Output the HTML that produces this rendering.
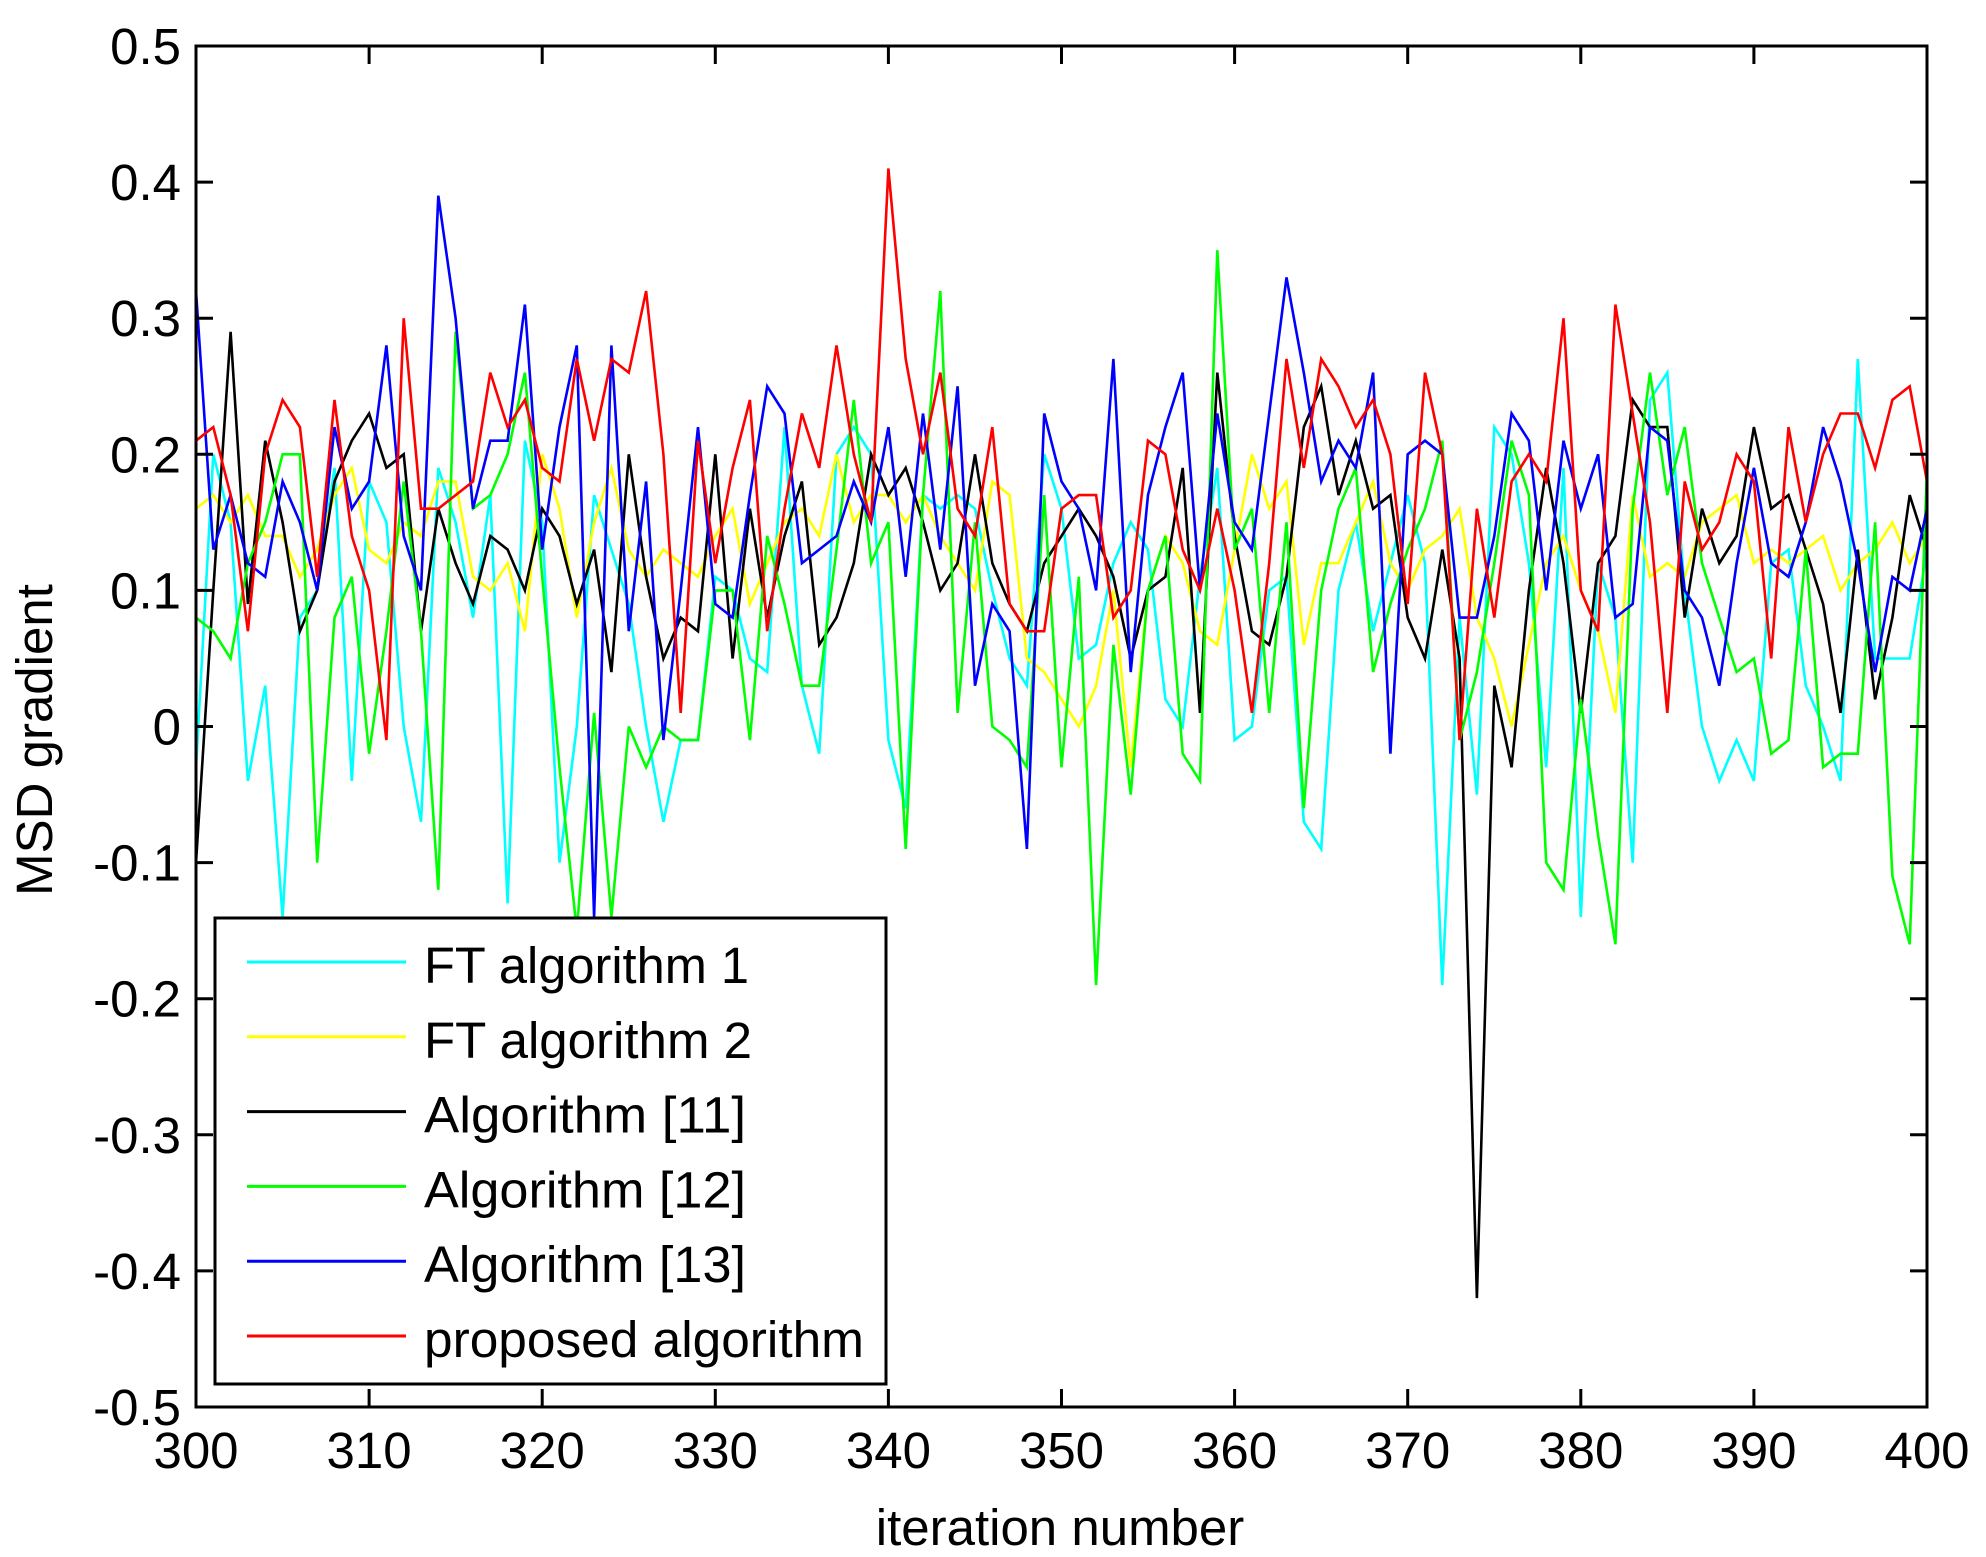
<!DOCTYPE html>
<html><head><meta charset="utf-8"><style>
html,body{margin:0;padding:0;background:#fff;}
svg{display:block;font-family:"Liberation Sans",Arial,sans-serif;}
</style></head><body>
<svg id="s" width="1986" height="1557" viewBox="0 0 1986 1557" xmlns="http://www.w3.org/2000/svg">
<rect width="1986" height="1557" fill="#fff"/>
<g id="series" fill="none" stroke-width="2.6" stroke-linejoin="miter"></g>
<g id="axes"></g>
</svg>
<script>
var L=196,R=1927,T=46,B=1407;
function X(i){return L+i*(R-L)/100;}
function Y(v){return T+(0.5-v)*(B-T);}
var data={
cyan:[-0.03,0.2,0.15,-0.04,0.03,-0.14,0.08,0.1,0.19,-0.04,0.18,0.15,0.0,-0.07,0.19,0.15,0.08,0.17,-0.13,0.21,0.15,-0.1,0.0,0.17,0.13,0.09,0.0,-0.07,-0.01,-0.01,0.11,0.1,0.05,0.04,0.22,0.03,-0.02,0.2,0.22,0.2,-0.01,-0.06,0.17,0.16,0.17,0.16,0.1,0.05,0.03,0.2,0.16,0.05,0.06,0.12,0.15,0.13,0.02,0.0,0.11,0.19,-0.01,0.0,0.1,0.11,-0.07,-0.09,0.1,0.15,0.07,0.12,0.17,0.12,-0.19,0.08,-0.05,0.22,0.2,0.12,-0.03,0.19,-0.14,0.12,0.08,-0.1,0.24,0.26,0.1,0.0,-0.04,-0.01,-0.04,0.12,0.13,0.03,0.0,-0.04,0.27,0.05,0.05,0.05,0.13],
yellow:[0.16,0.17,0.15,0.17,0.14,0.14,0.11,0.13,0.17,0.19,0.13,0.12,0.15,0.14,0.18,0.18,0.11,0.1,0.12,0.07,0.2,0.16,0.08,0.15,0.19,0.13,0.11,0.13,0.12,0.11,0.14,0.16,0.09,0.12,0.15,0.16,0.14,0.2,0.15,0.17,0.17,0.15,0.17,0.14,0.12,0.1,0.18,0.17,0.05,0.04,0.02,0.0,0.03,0.1,-0.03,0.1,0.14,0.12,0.07,0.06,0.13,0.2,0.16,0.18,0.06,0.12,0.12,0.15,0.18,0.12,0.1,0.13,0.14,0.16,0.08,0.05,0.0,0.06,0.12,0.14,0.1,0.07,0.01,0.17,0.11,0.12,0.11,0.15,0.16,0.17,0.12,0.13,0.12,0.13,0.14,0.1,0.12,0.13,0.15,0.12,0.14],
"#000":[-0.1,0.1,0.29,0.09,0.21,0.15,0.07,0.1,0.18,0.21,0.23,0.19,0.2,0.07,0.16,0.12,0.09,0.14,0.13,0.1,0.16,0.14,0.09,0.13,0.04,0.2,0.11,0.05,0.08,0.07,0.2,0.05,0.16,0.08,0.14,0.18,0.06,0.08,0.12,0.2,0.17,0.19,0.15,0.1,0.12,0.2,0.12,0.09,0.07,0.12,0.14,0.16,0.14,0.11,0.05,0.1,0.11,0.19,0.01,0.26,0.14,0.07,0.06,0.11,0.22,0.25,0.17,0.21,0.16,0.17,0.08,0.05,0.13,0.05,-0.42,0.03,-0.03,0.1,0.19,0.12,0.01,0.12,0.14,0.24,0.22,0.22,0.08,0.16,0.12,0.14,0.22,0.16,0.17,0.13,0.09,0.01,0.13,0.02,0.08,0.17,0.13],
"#00ff00":[0.08,0.07,0.05,0.12,0.15,0.2,0.2,-0.1,0.08,0.11,-0.02,0.07,0.18,0.07,-0.12,0.29,0.16,0.17,0.2,0.26,0.11,-0.03,-0.15,0.01,-0.14,0.0,-0.03,0,-0.01,-0.01,0.1,0.1,-0.01,0.14,0.09,0.03,0.03,0.13,0.24,0.12,0.15,-0.09,0.17,0.32,0.01,0.15,0.0,-0.01,-0.03,0.17,-0.03,0.11,-0.19,0.06,-0.05,0.1,0.14,-0.02,-0.04,0.35,0.13,0.16,0.01,0.15,-0.06,0.1,0.16,0.19,0.04,0.09,0.13,0.16,0.21,-0.01,0.04,0.12,0.21,0.17,-0.1,-0.12,0.02,-0.08,-0.16,0.16,0.26,0.17,0.22,0.12,0.08,0.04,0.05,-0.02,-0.01,0.13,-0.03,-0.02,-0.02,0.15,-0.11,-0.16,0.19],
"#0000ff":[0.32,0.13,0.17,0.12,0.11,0.18,0.15,0.1,0.22,0.16,0.18,0.28,0.14,0.1,0.39,0.3,0.16,0.21,0.21,0.31,0.13,0.22,0.28,-0.14,0.28,0.07,0.18,-0.01,0.1,0.22,0.09,0.08,0.17,0.25,0.23,0.12,0.13,0.14,0.18,0.15,0.22,0.11,0.23,0.13,0.25,0.03,0.09,0.07,-0.09,0.23,0.18,0.16,0.1,0.27,0.04,0.17,0.22,0.26,0.1,0.23,0.15,0.13,0.23,0.33,0.26,0.18,0.21,0.19,0.26,-0.02,0.2,0.21,0.2,0.08,0.08,0.14,0.23,0.21,0.1,0.21,0.16,0.2,0.08,0.09,0.22,0.21,0.1,0.08,0.03,0.12,0.19,0.12,0.11,0.15,0.22,0.18,0.12,0.04,0.11,0.1,0.16],
"#ff0000":[0.21,0.22,0.17,0.07,0.2,0.24,0.22,0.11,0.24,0.14,0.1,-0.01,0.3,0.16,0.16,0.17,0.18,0.26,0.22,0.24,0.19,0.18,0.27,0.21,0.27,0.26,0.32,0.2,0.01,0.21,0.12,0.19,0.24,0.07,0.16,0.23,0.19,0.28,0.2,0.15,0.41,0.27,0.2,0.26,0.16,0.14,0.22,0.09,0.07,0.07,0.16,0.17,0.17,0.08,0.1,0.21,0.2,0.13,0.1,0.16,0.1,0.01,0.12,0.27,0.19,0.27,0.25,0.22,0.24,0.2,0.09,0.26,0.2,-0.01,0.16,0.08,0.18,0.2,0.18,0.3,0.1,0.07,0.31,0.23,0.15,0.01,0.18,0.13,0.15,0.2,0.18,0.05,0.22,0.15,0.2,0.23,0.23,0.19,0.24,0.25,0.18]
};
var NS="http://www.w3.org/2000/svg";
function el(t,a,p,txt){var e=document.createElementNS(NS,t);for(var k in a)e.setAttribute(k,a[k]);if(txt!=null)e.textContent=txt;p.appendChild(e);return e;}
var sg=document.getElementById('series');
for(var c in data){var d=data[c],pts=[];for(var i=0;i<d.length&&i<=100;i++)pts.push(X(i).toFixed(1)+','+Y(d[i]).toFixed(1));
el('polyline',{points:pts.join(' '),stroke:c==='cyan'?'#00ffff':c==='yellow'?'#ffff00':c},sg);}
var ag=document.getElementById('axes');
el('rect',{x:L,y:T,width:R-L,height:B-T,fill:'none',stroke:'#000','stroke-width':3},ag);
for(var k=0;k<=10;k++){var v=0.5-k*0.1,y=Y(v);
el('line',{x1:L,y1:y,x2:L+17,y2:y,stroke:'#000','stroke-width':3},ag);
el('line',{x1:R,y1:y,x2:R-17,y2:y,stroke:'#000','stroke-width':3},ag);
var s=Math.abs(v)<1e-9?'0':(v<0?'-':'')+Math.abs(v).toFixed(1);
el('text',{x:181,y:y+18,'font-size':51,'text-anchor':'end'},ag,s);}
for(var k=0;k<=10;k++){var x=X(k*10);
el('line',{x1:x,y1:B,x2:x,y2:B-18,stroke:'#000','stroke-width':3},ag);
el('line',{x1:x,y1:T,x2:x,y2:T+18,stroke:'#000','stroke-width':3},ag);
el('text',{x:x,y:1468,'font-size':51,'text-anchor':'middle'},ag,String(300+k*10));}
el('text',{x:1060,y:1545,'font-size':51,'text-anchor':'middle'},ag,'iteration number');
el('text',{x:0,y:0,'font-size':51,'text-anchor':'middle',transform:'translate(52,740) rotate(-90)'},ag,'MSD gradient');
el('rect',{x:215,y:918,width:671,height:466,fill:'#fff',stroke:'#000','stroke-width':3},ag);
var leg=[['#00ffff','FT algorithm 1',325],['#ffff00','FT algorithm 2',328],['#000','Algorithm [11]',322],['#00ff00','Algorithm [12]',322],['#0000ff','Algorithm [13]',322],['#ff0000','proposed algorithm',440]];
for(var j=0;j<6;j++){var y=962+j*74.8;
el('line',{x1:247,y1:y,x2:406,y2:y,stroke:leg[j][0],'stroke-width':3},ag);
el('text',{x:424,y:y+21,'font-size':51,textLength:leg[j][2],lengthAdjust:'spacingAndGlyphs'},ag,leg[j][1]);}
</script>
</body></html>
